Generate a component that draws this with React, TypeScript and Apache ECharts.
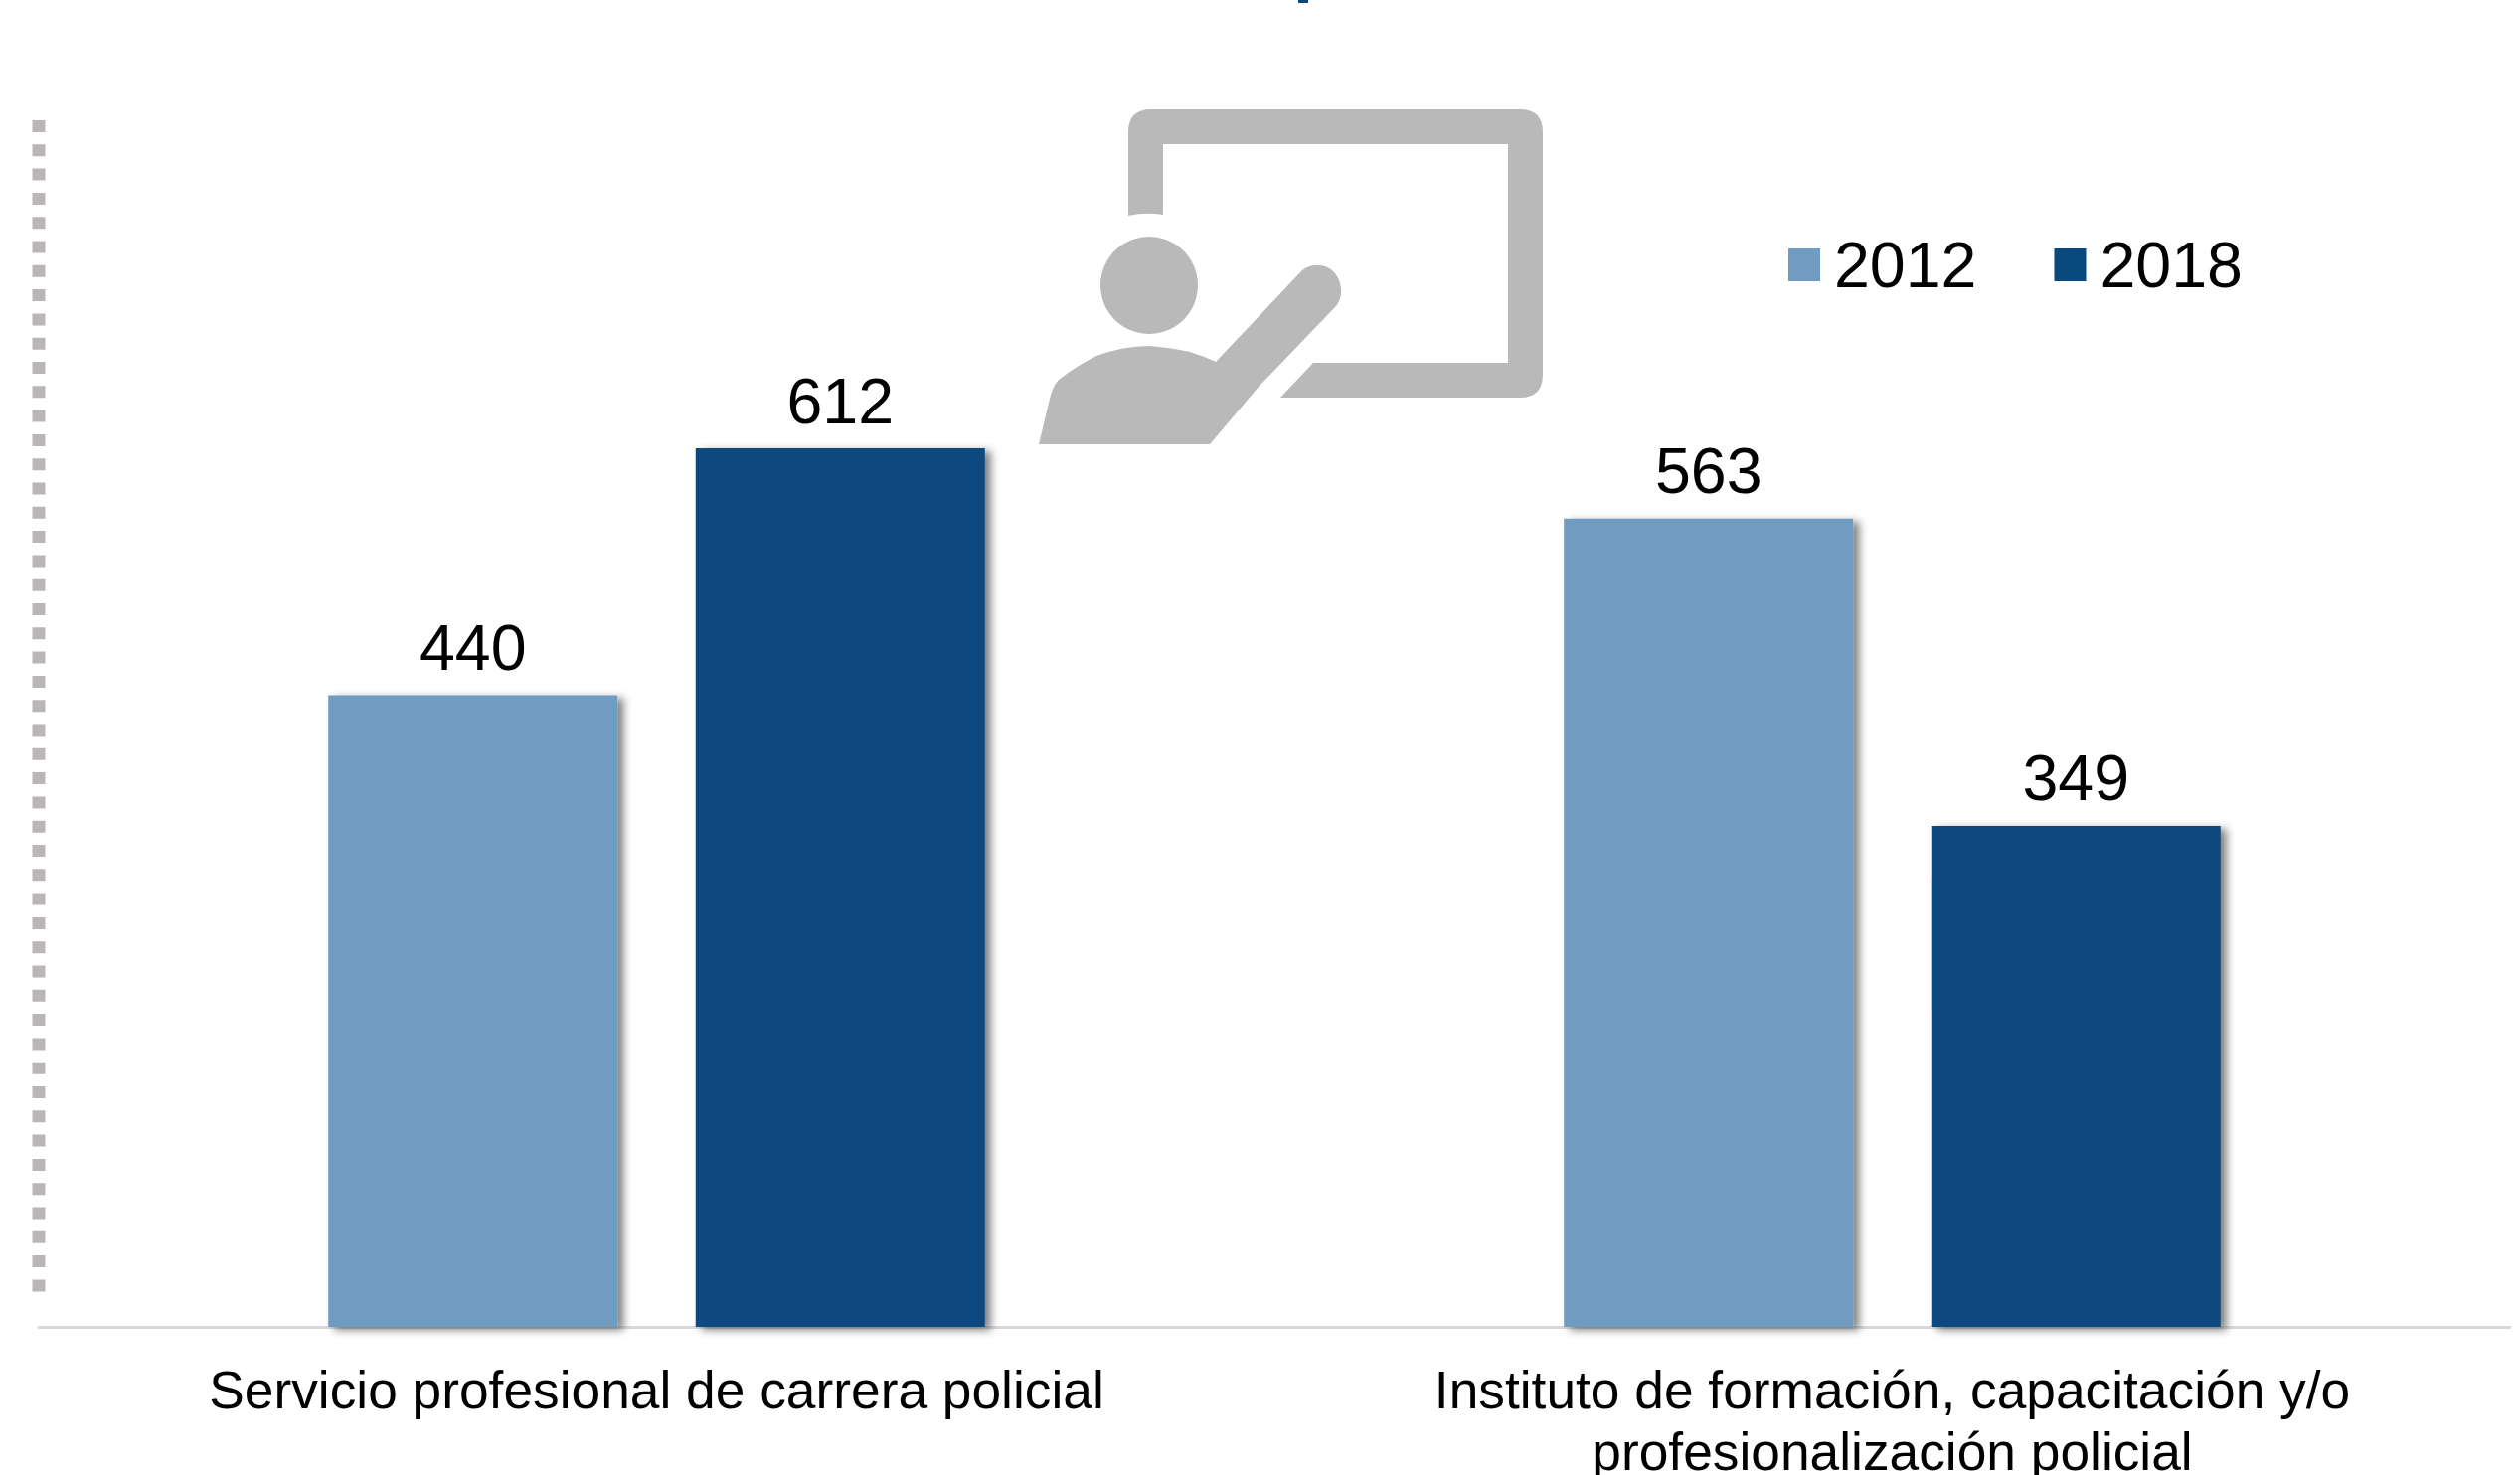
import React, { useEffect, useRef } from "react";
import * as echarts from "echarts";

const categories = [
  "Servicio profesional de carrera policial",
  "Instituto de formación, capacitación y/o\nprofesionalización policial",
];
const values2012 = [440, 563];
const values2018 = [612, 349];
const colour2012 = "#709CC2";
const colour2018 = "#0A497E";
const iconGrey = "#B9B9B9";
const fontFamily = '"Liberation Sans", Arial, sans-serif';

const boardPath =
  "M1135 217 V133 Q1135 110 1158 110 H1529 Q1552 110 1552 133 V377 Q1552 400 1529 400 H1288 L1321 365 H1517 V145 H1170 V216 Q1152 213 1135 217 Z";
const personPath =
  "M1045 447 L1057 397 Q1060 387 1065 382 Q1083 368 1103 358 Q1130 348 1156 348 Q1180 350 1197 354 Q1210 358 1223 364 L1310 272 C1320 264 1335 265 1343 275 C1351 285 1351 300 1344 308 L1267 388 L1217 447 Z";
echarts.graphic.registerShape("boardIcon", echarts.graphic.extendPath(boardPath, {}));
echarts.graphic.registerShape("personIcon", echarts.graphic.extendPath(personPath, {}));

const barShadow = {
  shadowColor: "rgba(0,0,0,0.5)",
  shadowBlur: 8,
  shadowOffsetX: 6,
  shadowOffsetY: 3,
};
const barLabel = {
  show: true,
  position: "top" as const,
  distance: 15,
  color: "#000",
  fontSize: 64.5,
  fontFamily,
};

export default function App() {
  const ref = useRef<HTMLDivElement>(null);
  useEffect(() => {
    document.body.style.margin = "0";
    const chart = echarts.init(ref.current!, undefined, { renderer: "svg" });
    chart.setOption({
      animation: false,
      backgroundColor: "#fff",
      grid: { left: 39, right: 10, top: 100, bottom: 149, containLabel: false, outerBoundsMode: "none" },
      legend: {
        left: 1794,
        top: 229,
        icon: "rect",
        itemWidth: 32,
        itemHeight: 33,
        itemGap: 78,
        textStyle: { color: "#000", fontSize: 64.5, fontFamily, padding: [0, 0, 5, 9] },
        data: ["2012", "2018"],
      },
      xAxis: {
        type: "category",
        data: categories,
        axisTick: { show: false },
        axisLine: { lineStyle: { color: "#D9D9D9", width: 3 } },
        axisLabel: {
          color: "#000",
          fontSize: 53.3,
          fontFamily,
          lineHeight: 62,
          margin: 32,
          interval: 0,
        },
      },
      yAxis: { type: "value", min: 0, max: 855, show: false },
      series: [
        {
          name: "2012",
          type: "bar",
          data: values2012,
          barWidth: 291,
          barGap: "27%",
          itemStyle: { color: colour2012, ...barShadow },
          label: barLabel,
        },
        {
          name: "2018",
          type: "bar",
          data: values2018,
          barWidth: 291,
          itemStyle: { color: colour2018, ...barShadow },
          label: barLabel,
        },
      ],
      graphic: [
        {
          type: "line",
          silent: true,
          shape: { x1: 39, y1: 121, x2: 39, y2: 1300 },
          style: { stroke: "#BAB6B7", lineWidth: 13, lineDash: [12, 12.3] },
        },
        { type: "boardIcon", silent: true, style: { fill: iconGrey } },
        { type: "personIcon", silent: true, style: { fill: iconGrey } },
        { type: "circle", silent: true, shape: { cx: 1156, cy: 287, r: 49 }, style: { fill: iconGrey } },
        { type: "rect", silent: true, shape: { x: 1306, y: 0, width: 10, height: 3 }, style: { fill: colour2018 } },
      ],
    });
    return () => chart.dispose();
  }, []);
  return <div ref={ref} style={{ position: "absolute", left: 0, top: 0, width: 2535, height: 1484 }} />;
}
